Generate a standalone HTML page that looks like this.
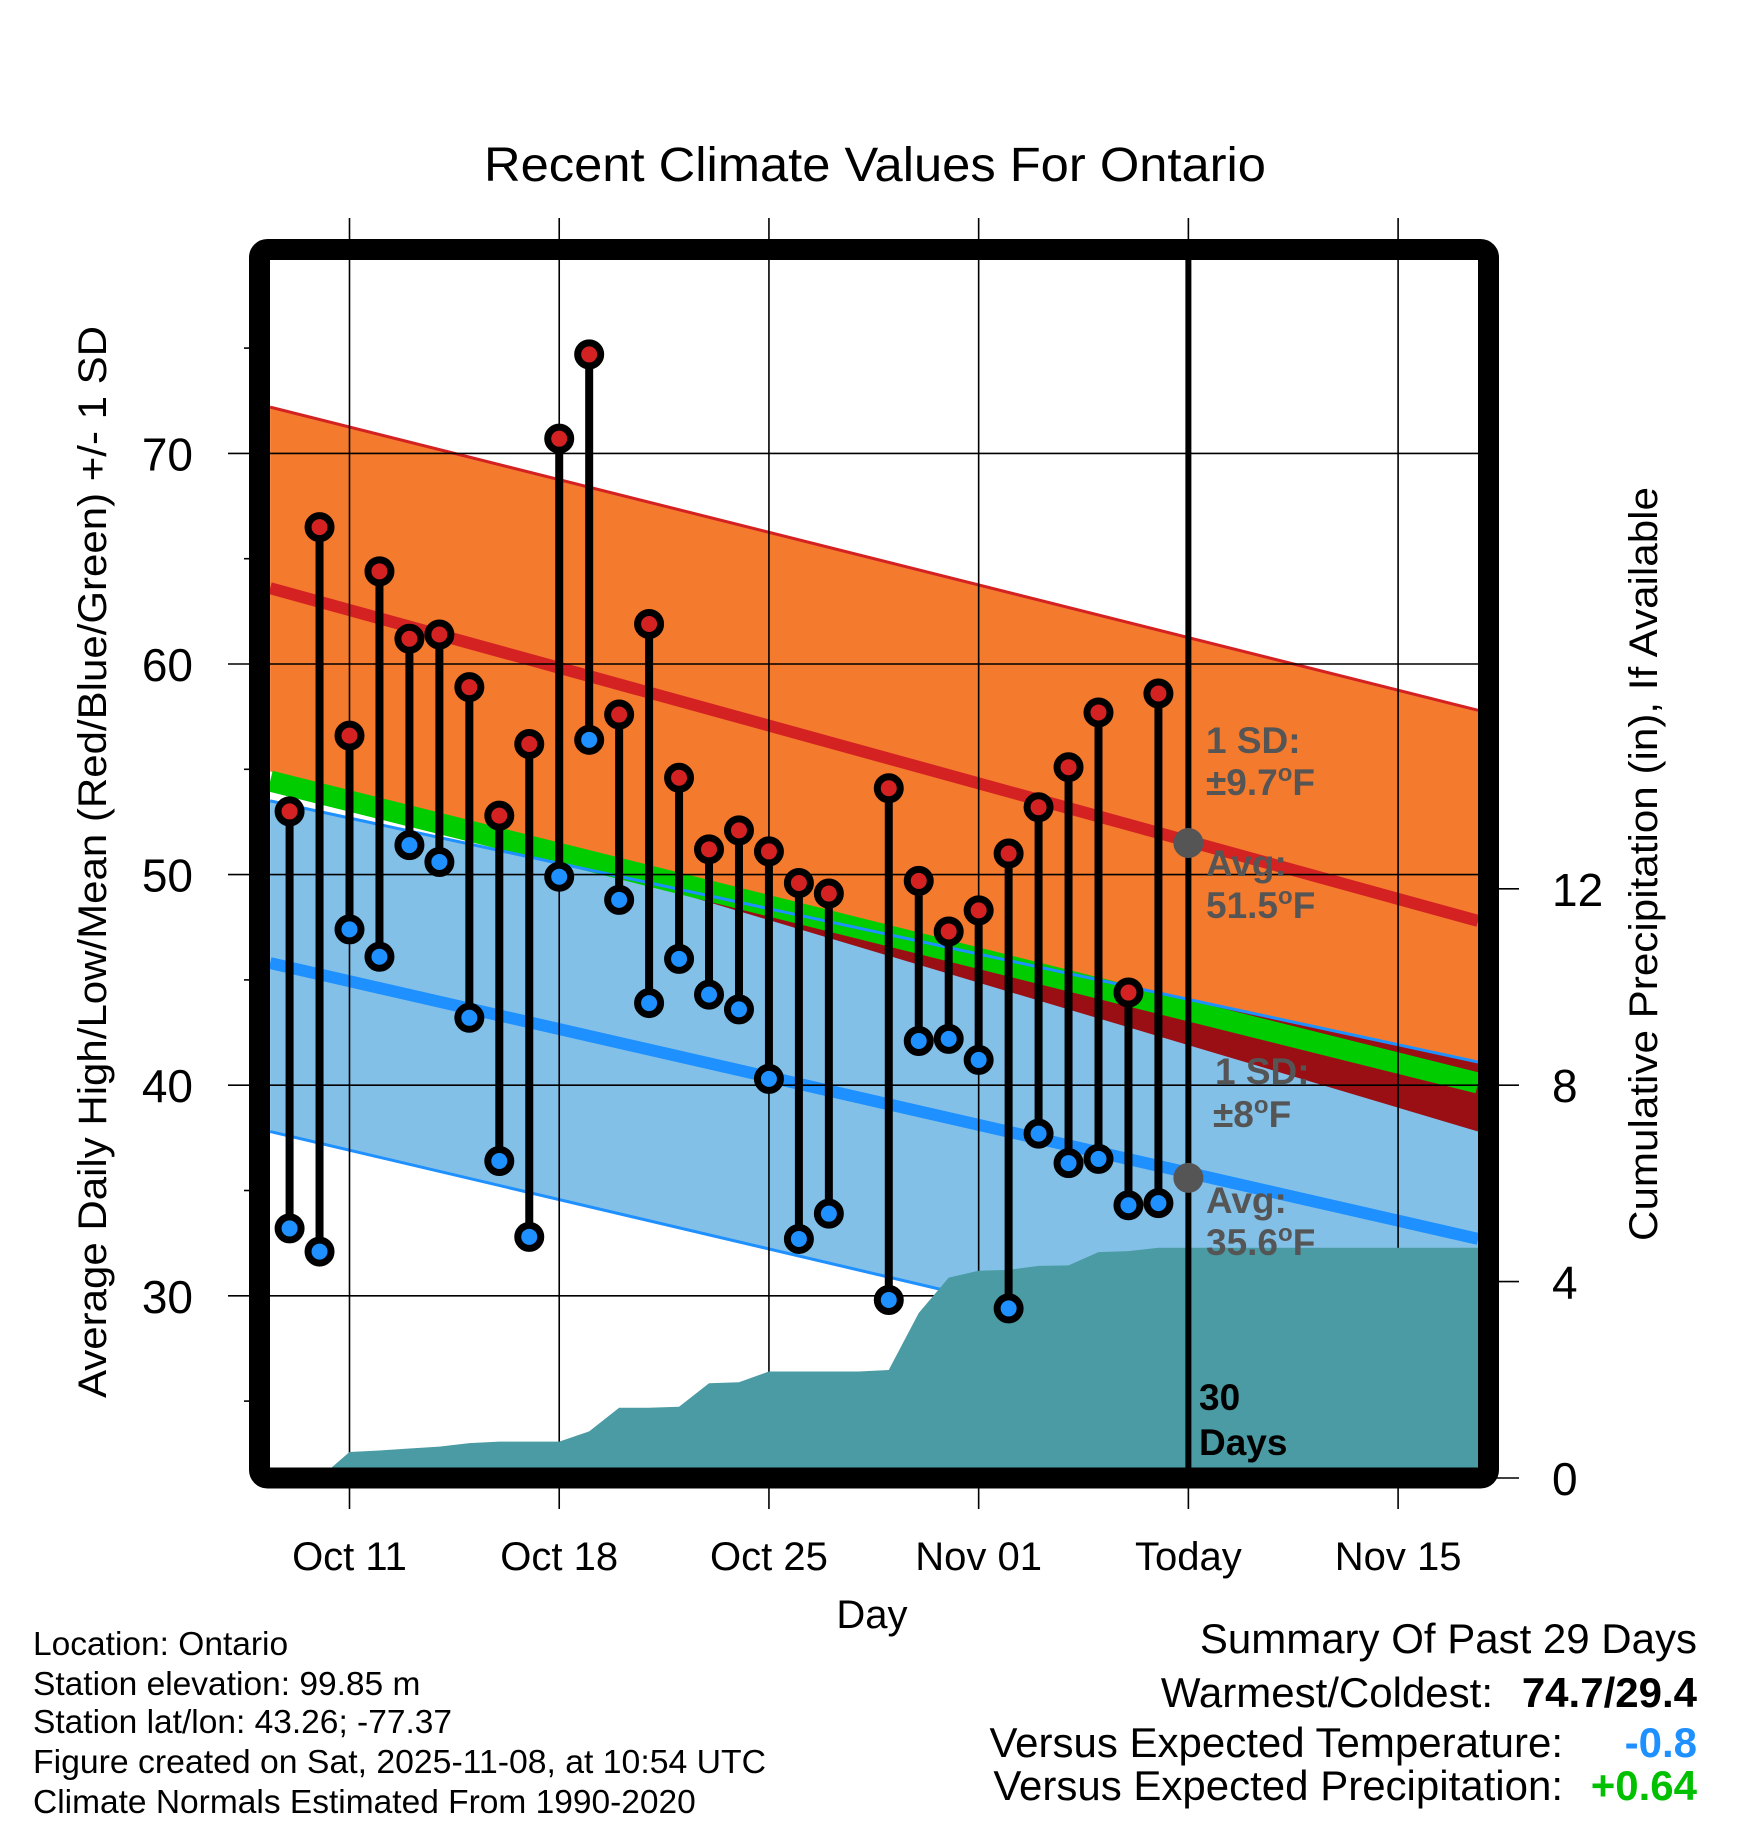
<!DOCTYPE html>
<html><head><meta charset="utf-8"><title>Recent Climate Values For Ontario</title>
<style>html,body{margin:0;padding:0;background:#fff}svg{display:block}text{font-family:"Liberation Sans",Arial,sans-serif}</style>
</head><body>
<svg id="chart" xmlns="http://www.w3.org/2000/svg" width="1748" height="1828" viewBox="0 0 1748 1828">
<defs><clipPath id="plotclip"><rect x="270" y="260" width="1208" height="1208"/></clipPath></defs>
<g id="fills" clip-path="url(#plotclip)"></g>
<g id="marks"></g>
<rect x="259.5" y="249.5" width="1229" height="1228.5" rx="8" fill="none" stroke="#000" stroke-width="21"/>
<text x="875" y="181" font-size="48" text-anchor="middle" textLength="782" lengthAdjust="spacingAndGlyphs">Recent Climate Values For Ontario</text>
<text transform="translate(106,862) rotate(-90)" font-size="40" text-anchor="middle" textLength="1072" lengthAdjust="spacingAndGlyphs">Average Daily High/Low/Mean (Red/Blue/Green) +/- 1 SD</text>
<text transform="translate(1657,864) rotate(-90)" font-size="40" text-anchor="middle" textLength="754" lengthAdjust="spacingAndGlyphs">Cumulative Precipitation (in), If Available</text>
<text x="872" y="1628" font-size="40" text-anchor="middle">Day</text>
<g font-size="33.5">
<text x="33" y="1655">Location: Ontario</text>
<text x="33" y="1695">Station elevation: 99.85 m</text>
<text x="33" y="1733">Station lat/lon: 43.26; -77.37</text>
<text x="33" y="1773" textLength="733" lengthAdjust="spacingAndGlyphs">Figure created on Sat, 2025-11-08, at 10:54 UTC</text>
<text x="33" y="1813">Climate Normals Estimated From 1990-2020</text>
</g>
<g font-size="42">
<text x="1697" y="1653" text-anchor="end">Summary Of Past 29 Days</text>
<text x="1493" y="1707" text-anchor="end">Warmest/Coldest:</text>
<text x="1697" y="1707" text-anchor="end" font-weight="bold">74.7/29.4</text>
<text x="1563" y="1757" text-anchor="end">Versus Expected Temperature:</text>
<text x="1697" y="1757" text-anchor="end" font-weight="bold" fill="#1e90ff">-0.8</text>
<text x="1563" y="1800" text-anchor="end">Versus Expected Precipitation:</text>
<text x="1697" y="1800" text-anchor="end" font-weight="bold" fill="#00c000">+0.64</text>
</g>
</svg>
<script>
// days since Oct 8
const obsDays = [1,2,3,4,5,6,7,8,9,10,11,12,13,14,15,16,17,18,19,21,22,23,24,25,26,27,28,29,30];
const highs = [53.0,66.5,56.6,64.4,61.2,61.4,58.9,52.8,56.2,70.7,74.7,57.6,61.9,54.6,51.2,52.1,51.1,49.6,49.1,54.1,49.7,47.3,48.3,51.0,53.2,55.1,57.7,44.4,58.6];
const lows = [33.2,32.1,47.4,46.1,51.4,50.6,43.2,36.4,32.8,49.9,56.4,48.8,43.9,46.0,44.3,43.6,40.3,32.7,33.9,29.8,42.1,42.2,41.2,29.4,37.7,36.3,36.5,34.3,34.4];
const precipDays = [2,3,4,5,6,7,8,9,10,11,12,13,14,15,16,17,18,19,20,21,22,23,24,25,26,27,28,29,30,31,40.7];
const precipCum = [0,0.53,0.56,0.6,0.64,0.71,0.74,0.74,0.74,0.95,1.43,1.43,1.45,1.93,1.95,2.17,2.17,2.17,2.17,2.2,3.36,4.08,4.22,4.24,4.32,4.33,4.6,4.62,4.69,4.69,4.69];
const normalDays = [0.35,40.67];
const highSdTop = [72.2,57.8];
const highSdBot = [54.9,37.8];
const highAvg = [63.6,47.8];
const lowSdTop = [53.5,41.1];
const lowSdBot = [37.8,24.3];
const lowAvg = [45.8,32.7];
const meanAvg = [54.44,40.1];
const xTickDays = [3,10,17,24,31,38];
const xTickLabels = ["Oct 11","Oct 18","Oct 25","Nov 01","Today","Nov 15"];
const yTicks = [30,40,50,60,70];
const yMinor = [25,35,45,55,65,75];
const y2Ticks = [0,4,8,12];
const todayDay = 31;
const todayHighAvg = 51.5, todayLowAvg = 35.6;

const NS = "http://www.w3.org/2000/svg";
const X = d => 349.5 + (d - 3) * 29.96;
const YT = t => 1295.8 - (t - 30) * 21.06;
const YP = p => 1478 - p * 49.1;
const fills = document.getElementById('fills');
const marks = document.getElementById('marks');
const svg = document.getElementById('chart');
function mk(tag, attrs, parent) {
  const e = document.createElementNS(NS, tag);
  for (const k in attrs) e.setAttribute(k, attrs[k]);
  parent.appendChild(e);
  return e;
}
function band(top, bot) {
  let pts = [];
  for (let i = 0; i < normalDays.length; i++) pts.push(X(normalDays[i]) + ',' + YT(top[i]));
  for (let i = normalDays.length - 1; i >= 0; i--) pts.push(X(normalDays[i]) + ',' + YT(bot[i]));
  return pts.join(' ');
}
function line(vals) {
  return normalDays.map((d, i) => X(d) + ',' + YT(vals[i])).join(' ');
}
let e;
e = mk('polygon', {points: band(highSdTop, highSdBot), fill: '#f47a2e'}, fills);


e = mk('polygon', {points: band(lowSdTop, lowSdBot), fill: '#82c0e8'}, fills);


(function () {
  const d0 = lowSdTop[0] - highSdBot[0], d1 = lowSdTop[1] - highSdBot[1];
  const interp = (arr, f) => arr[0] + (arr[1] - arr[0]) * f;
  const dayAt = f => normalDays[0] + (normalDays[1] - normalDays[0]) * f;
  let poly = [];
  let fs = [];
  if (d0 * d1 < 0) { const fc = d0 / (d0 - d1); fs = d1 > 0 ? [fc, 1] : [0, fc]; }
  else if (d0 > 0) fs = [0, 1];
  if (fs.length) {
    poly.push(X(dayAt(fs[0])) + ',' + YT(interp(lowSdTop, fs[0])));
    poly.push(X(dayAt(fs[1])) + ',' + YT(interp(lowSdTop, fs[1])));
    poly.push(X(dayAt(fs[1])) + ',' + YT(interp(highSdBot, fs[1])));
    poly.push(X(dayAt(fs[0])) + ',' + YT(interp(highSdBot, fs[0])));
    e = mk('polygon', {points: poly.join(' '), fill: '#990f14'}, fills);
    
    
  }
})();
e = mk('polyline', {points: line(meanAvg), fill: 'none', stroke: '#00cc00', 'stroke-width': 21}, fills);


e = mk('polyline', {points: line(lowSdTop), fill: 'none', stroke: '#1e90ff', 'stroke-width': 3}, fills);


e = mk('polyline', {points: line(lowSdBot), fill: 'none', stroke: '#1e90ff', 'stroke-width': 3}, fills);


e = mk('polyline', {points: line(highSdTop), fill: 'none', stroke: '#d42222', 'stroke-width': 3}, fills);


e = mk('polyline', {points: line(highAvg), fill: 'none', stroke: '#d42222', 'stroke-width': 12}, fills);


e = mk('polyline', {points: line(lowAvg), fill: 'none', stroke: '#1e90ff', 'stroke-width': 12}, fills);



const hG = svg.insertBefore(document.createElementNS(NS, 'g'), marks);


yTicks.forEach(t => {
  e = mk('line', {x1: 228, x2: 1478, y1: YT(t), y2: YT(t), stroke: '#000', 'stroke-width': 1.6}, hG);
  
  
  e = mk('text', {x: 193, y: YT(t) + 17, 'font-size': 46, 'text-anchor': 'end'}, svg);
  e.textContent = t;
  
  
});
yMinor.forEach(t => {
  e = mk('line', {x1: 244, x2: 260, y1: YT(t), y2: YT(t), stroke: '#000', 'stroke-width': 1.6}, svg);
  
  
});
y2Ticks.forEach(p => {
  e = mk('line', {x1: 1488, x2: 1519, y1: YP(p), y2: YP(p), stroke: '#000', 'stroke-width': 1.6}, svg);
  
  
  e = mk('text', {x: 1552, y: YP(p) + 17, 'font-size': 46}, svg);
  e.textContent = p;
  
  
});
const gridG = svg.insertBefore(document.createElementNS(NS, 'g'), marks);


xTickDays.forEach((d, i) => {
  e = mk('line', {x1: X(d), x2: X(d), y1: 218, y2: 1509, stroke: '#000', 'stroke-width': 1.6}, gridG);
  
  
  e = mk('text', {x: X(d), y: 1570, 'font-size': 40, 'text-anchor': 'middle'}, svg);
  e.textContent = xTickLabels[i];
  
  
});
const pG = svg.insertBefore(document.createElementNS(NS, 'g'), marks);
pG.setAttribute('clip-path', 'url(#plotclip)');
let pp = precipDays.map((d, i) => X(d) + ',' + YP(precipCum[i]));
pp.push(X(precipDays[precipDays.length - 1]) + ',' + YP(0));
pp.push(X(precipDays[0]) + ',' + YP(0));
e = mk('polygon', {points: pp.join(' '), fill: '#4a9ba3'}, pG);



e = mk('line', {x1: X(todayDay), x2: X(todayDay), y1: 260, y2: 1468, stroke: '#000', 'stroke-width': 6}, marks);


obsDays.forEach((d, i) => {
  e = mk('line', {x1: X(d), x2: X(d), y1: YT(highs[i]), y2: YT(lows[i]), stroke: '#000', 'stroke-width': 8}, marks);
  
  
});
obsDays.forEach((d, i) => {
  e = mk('circle', {cx: X(d), cy: YT(highs[i]), r: 11.5, fill: '#d42222', stroke: '#000', 'stroke-width': 7}, marks);
  
  
  e = mk('circle', {cx: X(d), cy: YT(lows[i]), r: 11.5, fill: '#1e90ff', stroke: '#000', 'stroke-width': 7}, marks);
  
  
});
e = mk('circle', {cx: X(todayDay), cy: YT(todayHighAvg), r: 15, fill: '#555'}, marks);


e = mk('circle', {cx: X(todayDay), cy: YT(todayLowAvg), r: 15, fill: '#555'}, marks);



function label(x, y, html, name, color) {
  const t = mk('text', {x: x, y: y, 'font-size': 37, 'font-weight': 'bold', fill: color}, marks);
  t.innerHTML = html;
  
  
}
const deg = '<tspan dy="-14" font-size="24">o</tspan><tspan dy="14">F</tspan>';
label(1206, 753, '1 SD:', 'high-sd-label', '#555');
label(1206, 795, '±9.7' + deg, 'high-sd-value', '#555');
label(1206, 876, 'Avg:', 'high-avg-label', '#555');
label(1206, 918, '51.5' + deg, 'high-avg-value', '#555');
label(1215, 1084, '1 SD:', 'low-sd-label', '#555');
label(1213, 1127, '±8' + deg, 'low-sd-value', '#555');
label(1206, 1213, 'Avg:', 'low-avg-label', '#555');
label(1206, 1255, '35.6' + deg, 'low-avg-value', '#555');
label(1199, 1410, '30', 'period-days-number', '#000');
label(1199, 1455, 'Days', 'period-days-label', '#000');
</script>
</body></html>
